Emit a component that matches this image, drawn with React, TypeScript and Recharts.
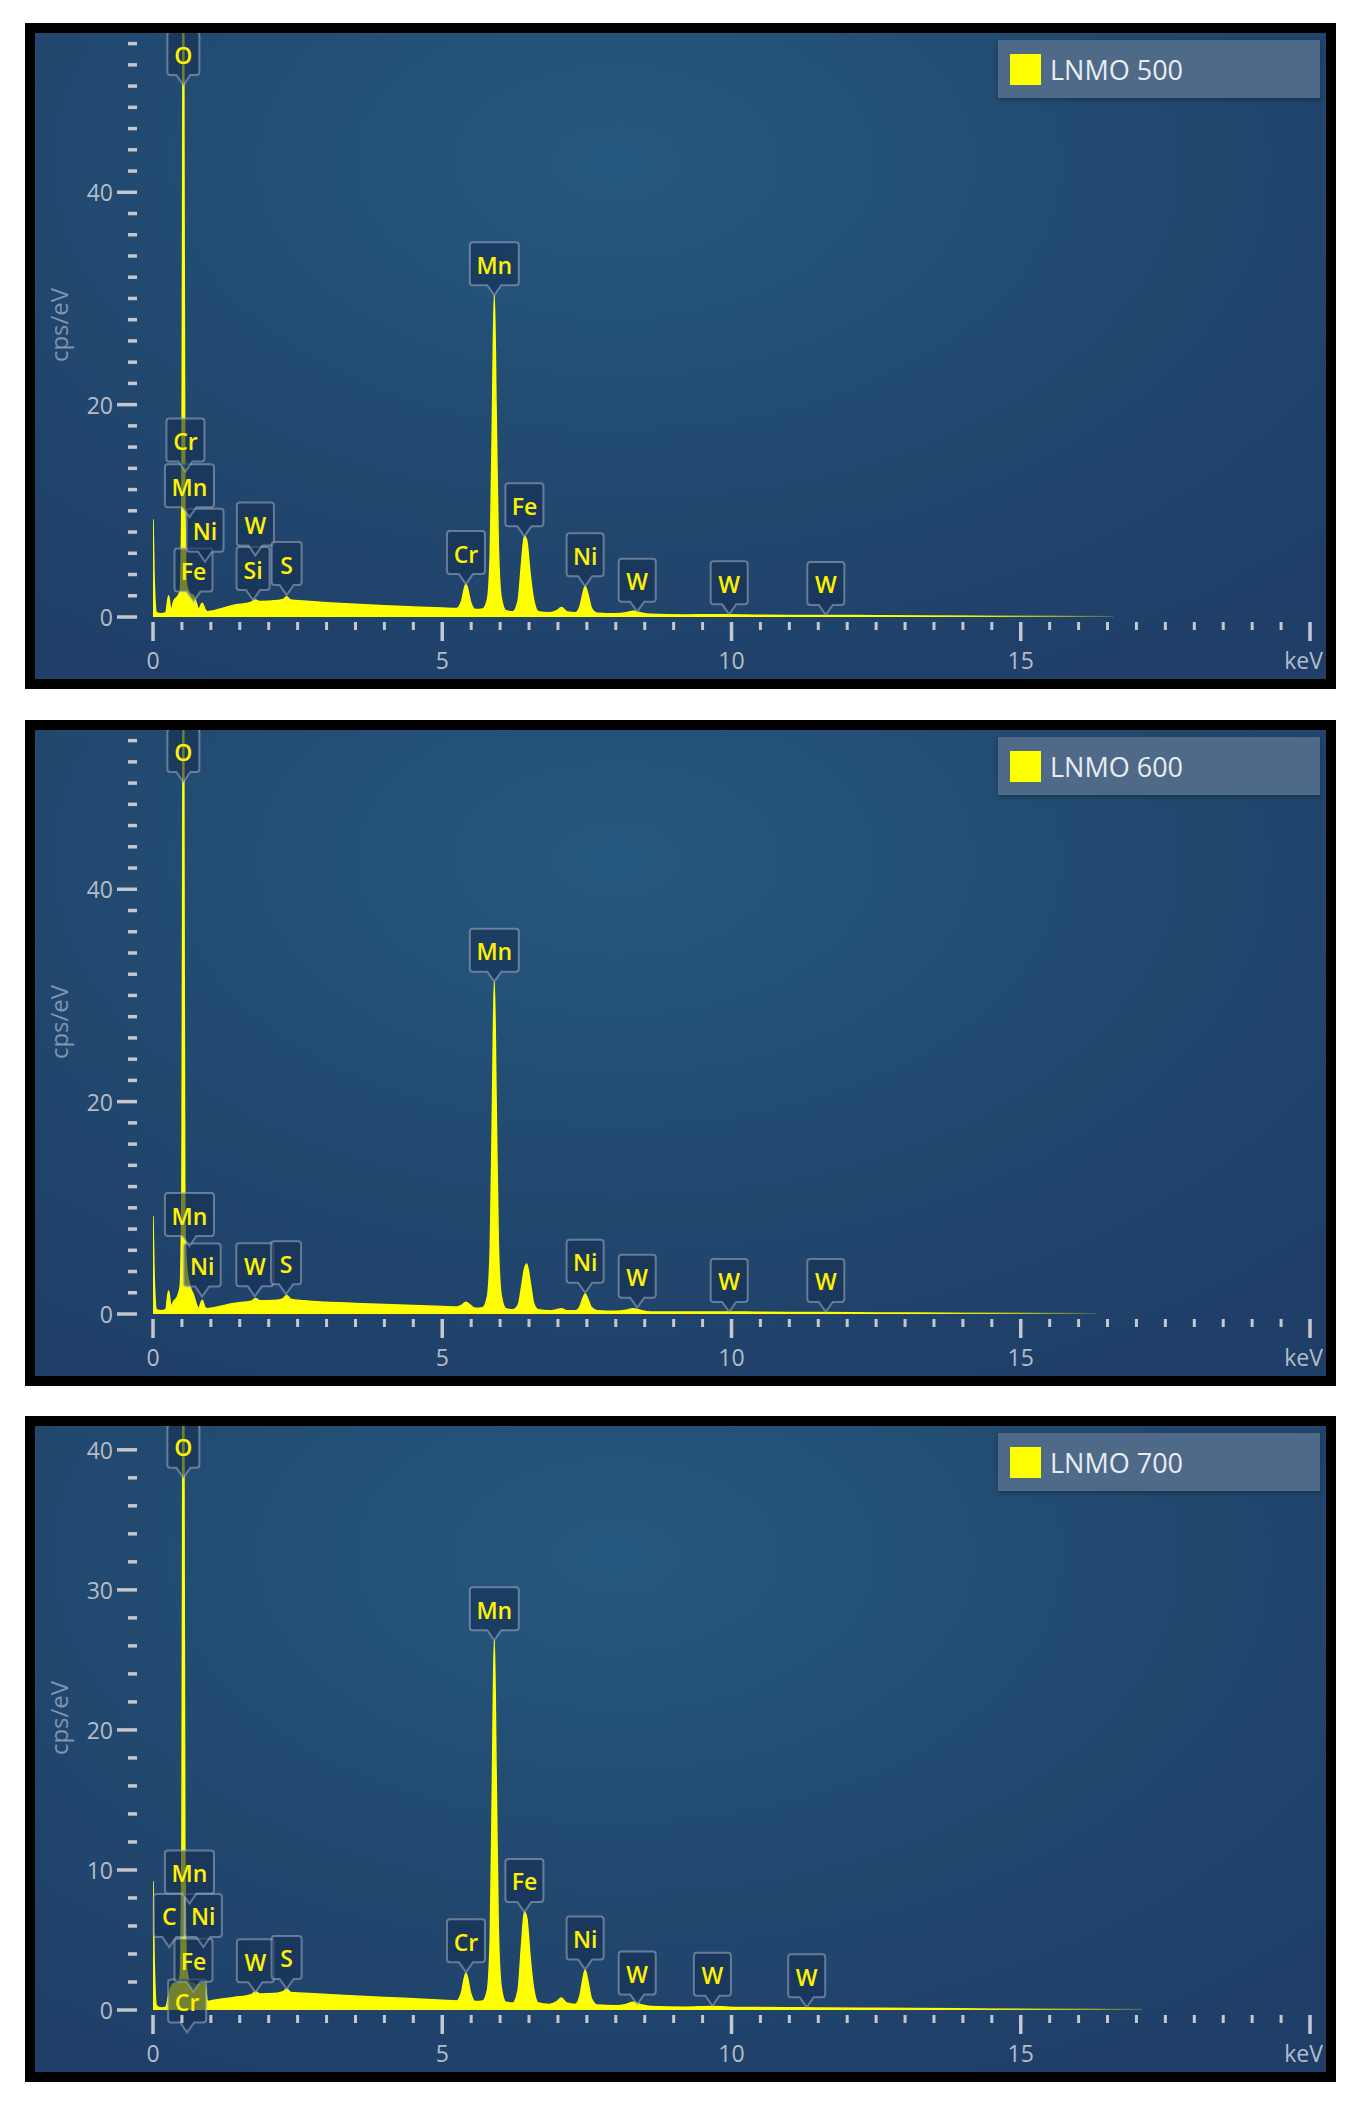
import React from 'react';
import { AreaChart, Area, XAxis, YAxis, ReferenceDot, Legend } from 'recharts';

// energy grid shared by the three spectra (keV)
const energyKeV = [
  0, 0.02, 0.06, 0.14, 0.22, 0.27, 0.31, 0.36, 0.42, 0.47,
  0.5, 0.515, 0.525, 0.535, 0.55, 0.58, 0.64, 0.7, 0.75, 0.79,
  0.85, 0.9, 0.94, 1.05, 1.4, 1.7, 1.77, 1.85, 2.15, 2.25,
  2.31, 2.38, 2.6, 3.0, 3.5, 4.0, 4.5, 5.0, 5.25, 5.33,
  5.41, 5.49, 5.57, 5.7, 5.78, 5.83, 5.87, 5.9, 5.93, 5.97,
  6.02, 6.1, 6.22, 6.31, 6.37, 6.42, 6.46, 6.52, 6.58, 6.66,
  6.85, 6.98, 7.06, 7.15, 7.3, 7.38, 7.44, 7.47, 7.51, 7.58,
  7.68, 8.0, 8.18, 8.3, 8.42, 8.6, 9.2, 9.67, 9.96, 10.5,
  11.3, 11.6, 12.5, 14.0, 15.5, 16.3, 16.6, 17.1,
];

// cps/eV
const counts500 = [
  9.2, 3.5, 0.4, 0.3, 0.4, 2.0, 0.6, 1.5, 1.9, 2.4,
  12, 45, 75, 45, 12, 3.0, 2.2, 2.0, 1.3, 0.7,
  1.3, 0.7, 0.5, 0.6, 1.1, 1.4, 1.6, 1.45, 1.55, 1.65,
  1.9, 1.6, 1.5, 1.35, 1.2, 1.05, 0.95, 0.85, 0.8, 1.4,
  3.1, 1.4, 0.7, 0.75, 1.6, 6, 20, 30.3, 20, 6.5,
  1.8, 0.6, 0.5, 1.5, 5.0, 7.6, 7.2, 4.0, 1.6, 0.5,
  0.4, 0.6, 0.9, 0.5, 0.4, 1.0, 2.4, 2.9, 2.3, 0.8,
  0.35, 0.3, 0.4, 0.55, 0.4, 0.25, 0.2, 0.22, 0.22, 0.17,
  0.15, 0.15, 0.12, 0.09, 0.06, 0.04, 0.03, null,
];

const counts600 = [
  9.2, 3.5, 0.4, 0.3, 0.4, 2.2, 0.7, 1.2, 1.6, 2.6,
  12, 45, 75, 45, 9, 4.5, 2.6, 1.8, 0.9, 0.5,
  1.3, 0.6, 0.5, 0.6, 1.0, 1.2, 1.45, 1.25, 1.3, 1.45,
  1.75, 1.4, 1.25, 1.1, 1.0, 0.9, 0.8, 0.7, 0.65, 0.8,
  1.1, 0.8, 0.55, 0.6, 1.6, 6.2, 20.6, 31.3, 20.6, 6.5,
  1.7, 0.5, 0.4, 0.8, 2.5, 4.2, 4.7, 3.0, 1.0, 0.4,
  0.3, 0.4, 0.5, 0.3, 0.3, 0.7, 1.6, 1.9, 1.5, 0.6,
  0.3, 0.25, 0.35, 0.5, 0.35, 0.2, 0.18, 0.2, 0.2, 0.16,
  0.14, 0.14, 0.1, 0.08, 0.05, 0.03, null, null,
];

const counts700 = [
  9.2, 3.5, 0.3, 0.15, 0.2, 1.0, 1.6, 1.9, 1.9, 2.4,
  12, 40, 60, 40, 12, 3.0, 2.0, 1.9, 1.8, 1.8,
  1.9, 1.9, 0.6, 0.7, 0.9, 1.1, 1.3, 1.15, 1.2, 1.3,
  1.5, 1.25, 1.2, 1.1, 1.0, 0.9, 0.8, 0.7, 0.65, 1.2,
  2.65, 1.2, 0.6, 0.65, 1.4, 5.2, 17.4, 26.4, 17.4, 5.6,
  1.6, 0.55, 0.5, 1.4, 4.6, 7.0, 6.6, 3.7, 1.5, 0.5,
  0.4, 0.6, 0.85, 0.5, 0.4, 1.0, 2.4, 2.85, 2.2, 0.8,
  0.35, 0.3, 0.4, 0.55, 0.4, 0.25, 0.2, 0.25, 0.2, 0.17,
  0.16, 0.14, 0.12, 0.09, 0.06, 0.05, 0.04, 0.03,
];

const xTicks = [
  0, 0.5, 1, 1.5, 2, 2.5, 3, 3.5, 4, 4.5, 5, 5.5, 6, 6.5, 7, 7.5, 8, 8.5, 9, 9.5,
  10, 10.5, 11, 11.5, 12, 12.5, 13, 13.5, 14, 14.5, 15, 15.5, 16, 16.5, 17, 17.5,
  18, 18.5, 19, 19.5, 20,
];
const xLabels: Record<number, string> = { 0: '0', 5: '5', 10: '10', 15: '15', 20: 'keV' };

const yTicks55 = [
  0, 2, 4, 6, 8, 10, 12, 14, 16, 18, 20, 22, 24, 26, 28, 30, 32, 34, 36, 38, 40,
  42, 44, 46, 48, 50, 52, 54,
];
const yTicks40 = [
  0, 2, 4, 6, 8, 10, 12, 14, 16, 18, 20, 22, 24, 26, 28, 30, 32, 34, 36, 38, 40,
];
const yMajor55 = [0, 20, 40];
const yMajor40 = [0, 10, 20, 30, 40];

// element markers: [element, energy keV, marker tip cps/eV]
const peaks500: [string, number, number][] = [
  ['O', 0.525, 50.1], ['Fe', 0.7, 1.45], ['Ni', 0.9, 5.2], ['Mn', 0.63, 9.4], ['Cr', 0.56, 13.7],
  ['Si', 1.73, 1.6], ['W', 1.77, 5.8], ['S', 2.31, 2.07], ['Cr', 5.41, 3.1], ['Mn', 5.9, 30.3],
  ['Fe', 6.42, 7.6], ['Ni', 7.47, 2.9], ['W', 8.37, 0.5], ['W', 9.96, 0.25], ['W', 11.63, 0.2],
];
const peaks600: [string, number, number][] = [
  ['O', 0.525, 50.1], ['Ni', 0.85, 1.65], ['Mn', 0.63, 6.4], ['W', 1.76, 1.66], ['S', 2.3, 1.85],
  ['Mn', 5.9, 31.3], ['Ni', 7.47, 2.0], ['W', 8.37, 0.6], ['W', 9.96, 0.2], ['W', 11.63, 0.2],
];
const peaks700: [string, number, number][] = [
  ['O', 0.525, 38.0], ['Cr', 0.59, -1.6], ['Fe', 0.7, 1.3], ['C', 0.28, 4.5], ['Ni', 0.87, 4.5],
  ['Mn', 0.63, 7.6], ['W', 1.77, 1.27], ['S', 2.31, 1.5], ['Cr', 5.41, 2.7], ['Mn', 5.9, 26.4],
  ['Fe', 6.42, 7.0], ['Ni', 7.47, 2.9], ['W', 8.37, 0.4], ['W', 9.67, 0.3], ['W', 11.3, 0.2],
];

const FONT = '"Open Sans", "Noto Sans", sans-serif';
const TICK = '#c3c8d0';
const LABEL = '#b4bcc8';
const BG = 'radial-gradient(ellipse 75% 90% at 45% 20%, #255880 0%, #22496f 55%, #1f3f68 100%)';

const FLAG_W: Record<string, number> = { O: 32, W: 37, S: 30, Si: 33, C: 31, Cr: 38, Ni: 37, Fe: 38, Mn: 49 };

function Flag({ cx, cy, text }: { cx: number; cy: number; text: string }) {
  const w = FLAG_W[text] ?? 36;
  const h = 43;
  const p = 10;
  const t = cy - p - h;
  const l = cx - w / 2;
  const r = l + w;
  const b = t + h;
  const d = `M${l + 3},${t} H${r - 3} Q${r},${t} ${r},${t + 3} V${b - 3} Q${r},${b} ${r - 3},${b} H${cx + 7} L${cx},${cy} L${cx - 7},${b} H${l + 3} Q${l},${b} ${l},${b - 3} V${t + 3} Q${l},${t} ${l + 3},${t} Z`;
  return (
    <g>
      <path d={d} fill="rgba(22,46,82,0.6)" stroke="rgba(160,175,195,0.55)" strokeWidth={2} />
      <text x={cx} y={t + h / 2 + 1} textAnchor="middle" dominantBaseline="central" fill="#fff200" fontSize={23} fontWeight={600} fontFamily={FONT}>
        {text}
      </text>
    </g>
  );
}

function XTick(props: any) {
  const { x, y, payload } = props;
  const v = payload.value;
  const major = v % 5 === 0;
  const label = xLabels[v];
  return (
    <g>
      <line x1={x} x2={x} y1={y + 5} y2={y + (major ? 24 : 13)} stroke={TICK} strokeWidth={major ? 3.5 : 3} />
      {label && (
        <text x={v === 20 ? x + 13 : x} y={y + 43} textAnchor={v === 20 ? 'end' : 'middle'} dominantBaseline="central" fill={LABEL} fontSize={23} fontFamily={FONT}>
          {label}
        </text>
      )}
    </g>
  );
}

function YTick(props: any) {
  const { x, y, payload, majors } = props;
  const v = payload.value;
  const major = majors.includes(v);
  return (
    <g>
      <line x1={x - (major ? 36 : 25)} x2={x - 16} y1={y} y2={y} stroke={TICK} strokeWidth={3.5} />
      {major && (
        <text x={x - 40} y={y} textAnchor="end" dominantBaseline="central" fill={LABEL} fontSize={23} fontFamily={FONT}>
          {v}
        </text>
      )}
    </g>
  );
}

interface PanelProps {
  id: string;
  name: string;
  counts: (number | null)[];
  peaks: [string, number, number][];
  yMax: number;
  yTicks: number[];
  yMajors: number[];
  top: number;
}

function Panel({ id, name, counts, peaks, yMax, yTicks, yMajors, top }: PanelProps) {
  const data = energyKeV.map((e, i) => ({ e, v: counts[i] }));
  return (
    <div style={{ position: 'absolute', left: 25, top, width: 1291, height: 646, border: '10px solid #000', background: BG }}>
      <AreaChart width={1291} height={646} data={data} margin={{ top: 0, right: 16, bottom: 0, left: 0 }}>
        <defs>
          <linearGradient id={`fade-${id}`} x1="0" y1="0" x2="1" y2="0">
            <stop offset="0" stopColor="#ffff00" />
            <stop offset="0.8" stopColor="#ffff00" />
            <stop offset="1" stopColor="#ffff00" stopOpacity={0.15} />
          </linearGradient>
        </defs>
        <XAxis
          dataKey="e"
          type="number"
          domain={[0, 20]}
          ticks={xTicks}
          interval={0}
          height={62}
          tickSize={0}
          tickMargin={0}
          axisLine={false}
          tickLine={false}
          allowDataOverflow
          tick={(p: any) => <XTick {...p} />}
        />
        <YAxis
          type="number"
          domain={[0, yMax]}
          ticks={yTicks}
          interval={0}
          width={118}
          tickSize={0}
          tickMargin={0}
          axisLine={false}
          tickLine={false}
          allowDataOverflow
          tick={(p: any) => <YTick {...p} majors={yMajors} />}
          label={{
            content: (lp: any) => {
              const vb = lp.viewBox || { y: 0, height: 584 };
              const cx = 23;
              const cy = vb.y + vb.height / 2;
              return (
                <text x={cx} y={cy} transform={`rotate(-90 ${cx} ${cy})`} textAnchor="middle" dominantBaseline="central" fill="#7f95b0" fontSize={24} fontFamily={FONT}>
                  cps/eV
                </text>
              );
            },
          }}
        />
        <Area
          type="monotone"
          dataKey="v"
          name={name}
          stroke={`url(#fade-${id})`}
          strokeWidth={1.5}
          fill={`url(#fade-${id})`}
          fillOpacity={1}
          dot={false}
          activeDot={false}
          isAnimationActive={false}
        />
        {peaks.map(([el, e, tip], i) => (
          <ReferenceDot
            key={`${el}-${i}`}
            x={e}
            y={tip}
            ifOverflow="hidden"
            shape={(p: any) => <Flag cx={p.cx} cy={p.cy} text={el} />}
          />
        ))}
        <Legend
          layout="horizontal"
          verticalAlign="middle"
          align="center"
          wrapperStyle={{ position: 'absolute', top: 7, left: 963, width: 322, height: 58 }}
          content={(lp: any) => (
            <div
              style={{
                width: 322,
                height: 58,
                background: '#4f6a89',
                boxShadow: '0 2px 5px rgba(0,0,0,0.3)',
                display: 'flex',
                alignItems: 'center',
                boxSizing: 'border-box',
                paddingLeft: 12,
              }}
            >
              <span style={{ width: 31, height: 31, background: '#ffff00', display: 'inline-block' }} />
              <span style={{ marginLeft: 9, color: '#e9edf2', fontSize: 27, fontFamily: FONT }}>
                {lp.payload && lp.payload[0] ? lp.payload[0].value : name}
              </span>
            </div>
          )}
        />
      </AreaChart>
    </div>
  );
}

export default function App() {
  return (
    <div style={{ position: 'absolute', left: 0, top: 0, width: 1359, height: 2106, background: '#fff' }}>
      <Panel id="500" name="LNMO 500" counts={counts500} peaks={peaks500} yMax={55} yTicks={yTicks55} yMajors={yMajor55} top={23} />
      <Panel id="600" name="LNMO 600" counts={counts600} peaks={peaks600} yMax={55} yTicks={yTicks55} yMajors={yMajor55} top={720} />
      <Panel id="700" name="LNMO 700" counts={counts700} peaks={peaks700} yMax={41.7} yTicks={yTicks40} yMajors={yMajor40} top={1416} />
    </div>
  );
}
